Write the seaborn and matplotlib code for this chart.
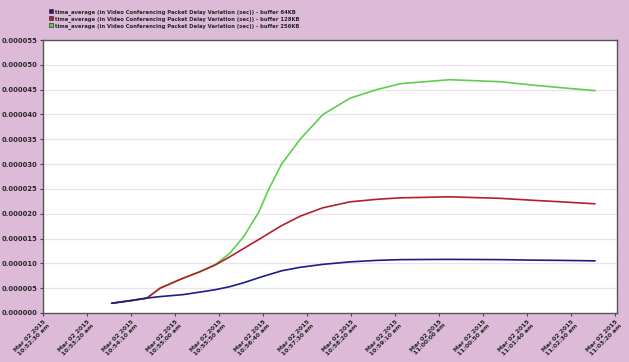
import matplotlib
matplotlib.use("Agg")
import matplotlib.pyplot as plt
from matplotlib.lines import Line2D
from matplotlib.ticker import FixedLocator, FuncFormatter
import seaborn as sns
import pandas as pd
from datetime import datetime, timedelta

# Simulation time, seconds after 10:52:30 am
t_sec = [78, 100, 118, 133, 159, 178, 196, 212, 228, 245, 256, 271, 292, 318,
         349, 379, 406, 462, 519, 557, 588, 627]

# Packet delay variation (sec) for each buffer size
pdv_64kb = [1.96e-6, 2.5e-6, 3.0e-6, 3.3e-6, 3.7e-6, 4.2e-6, 4.7e-6, 5.3e-6,
            6.1e-6, 7.1e-6, 7.7e-6, 8.5e-6, 9.2e-6, 9.8e-6, 10.3e-6, 10.6e-6,
            10.75e-6, 10.8e-6, 10.75e-6, 10.65e-6, 10.6e-6, 10.5e-6]
pdv_128kb = [1.96e-6, 2.5e-6, 3.0e-6, 5.0e-6, 7.0e-6, 8.3e-6, 9.7e-6, 11.3e-6,
             13.0e-6, 14.8e-6, 16.0e-6, 17.6e-6, 19.5e-6, 21.2e-6, 22.4e-6,
             22.9e-6, 23.2e-6, 23.4e-6, 23.1e-6, 22.7e-6, 22.4e-6, 22.0e-6]
pdv_256kb = [1.96e-6, 2.5e-6, 3.0e-6, 5.0e-6, 7.0e-6, 8.3e-6, 9.8e-6, 12.0e-6,
             15.4e-6, 20.3e-6, 24.8e-6, 30.0e-6, 35.0e-6, 40.0e-6, 43.3e-6,
             45.0e-6, 46.2e-6, 47.0e-6, 46.6e-6, 45.9e-6, 45.4e-6, 44.8e-6]

series_names = [
    "time_average (in Video Conferencing Packet Delay Variation (sec)) - buffer 64KB",
    "time_average (in Video Conferencing Packet Delay Variation (sec)) - buffer 128KB",
    "time_average (in Video Conferencing Packet Delay Variation (sec)) - buffer 256KB",
]
series_colors = ["#1c1c8a", "#b3202c", "#5ccf4c"]

y_ticks = [i * 5e-6 for i in range(12)]
x_ticks = [i * 50 for i in range(14)]
start_time = datetime(2015, 3, 2, 10, 52, 30)

frames = []
for name, vals in zip(series_names, [pdv_64kb, pdv_128kb, pdv_256kb]):
    frames.append(pd.DataFrame({"t": t_sec, "pdv": vals, "series": name}))
df = pd.concat(frames, ignore_index=True)

sns.set_theme(style="white")
bg = "#dcbad8"
fig = plt.figure(figsize=(6.29, 3.62), dpi=100, facecolor=bg)
ax = fig.add_axes([0.0684, 0.1354, 0.9126, 0.7541])
ax.set_facecolor("white")

for val in y_ticks[1:-1]:
    ax.axhline(val, color="#ece2ec", lw=0.9, zorder=0)

# draw widest buffer first so the smaller buffers stay on top where they overlap
for name, col, z in zip(series_names[::-1], series_colors[::-1], [2, 3, 4]):
    sns.lineplot(data=df[df["series"] == name], x="t", y="pdv", color=col,
                 lw=1.2, ax=ax, zorder=z, legend=False)

ax.set_xlim(0, 652)
ax.set_ylim(0, 55e-6)
ax.yaxis.set_major_locator(FixedLocator(y_ticks))
ax.yaxis.set_major_formatter(FuncFormatter(lambda v, p: f"{v:.6f}"))
ax.xaxis.set_major_locator(FixedLocator(x_ticks))


def time_label(v, p):
    t = start_time + timedelta(seconds=int(v))
    return "Mar 02 2015\n" + t.strftime("%I:%M:%S").lstrip("0") + " am"


ax.xaxis.set_major_formatter(FuncFormatter(time_label))
ax.set_xlabel("")
ax.set_ylabel("")
ax.tick_params(axis="both", which="major", length=2.5, width=0.8,
               color="#444444", pad=1.5, bottom=True, left=True)
ax.tick_params(axis="x", labelsize=4.4)
ax.tick_params(axis="y", labelsize=4.9)
for lbl in ax.get_xticklabels():
    lbl.set_rotation(45)
    lbl.set_ha("right")
    lbl.set_va("top")
    lbl.set_rotation_mode("anchor")
    lbl.set_fontweight("bold")
for lbl in ax.get_yticklabels():
    lbl.set_fontweight("bold")

for side in ["left", "bottom", "right", "top"]:
    ax.spines[side].set_color("#555555")
    ax.spines[side].set_linewidth(1.0)
    ax.spines[side].set_visible(True)

handles = [Line2D([], [], marker="s", ls="none", markersize=3.5,
                  markerfacecolor=c, markeredgecolor="#333333",
                  markeredgewidth=0.5) for c in series_colors]
fig.legend(handles, series_names, loc="upper left",
           bbox_to_anchor=(0.072, 0.985), frameon=False,
           prop={"size": 3.8, "weight": "bold"}, handlelength=0.8,
           handletextpad=0.3, labelspacing=0.2, borderaxespad=0.3)

fig.savefig("out.png", dpi=100, facecolor=bg)
